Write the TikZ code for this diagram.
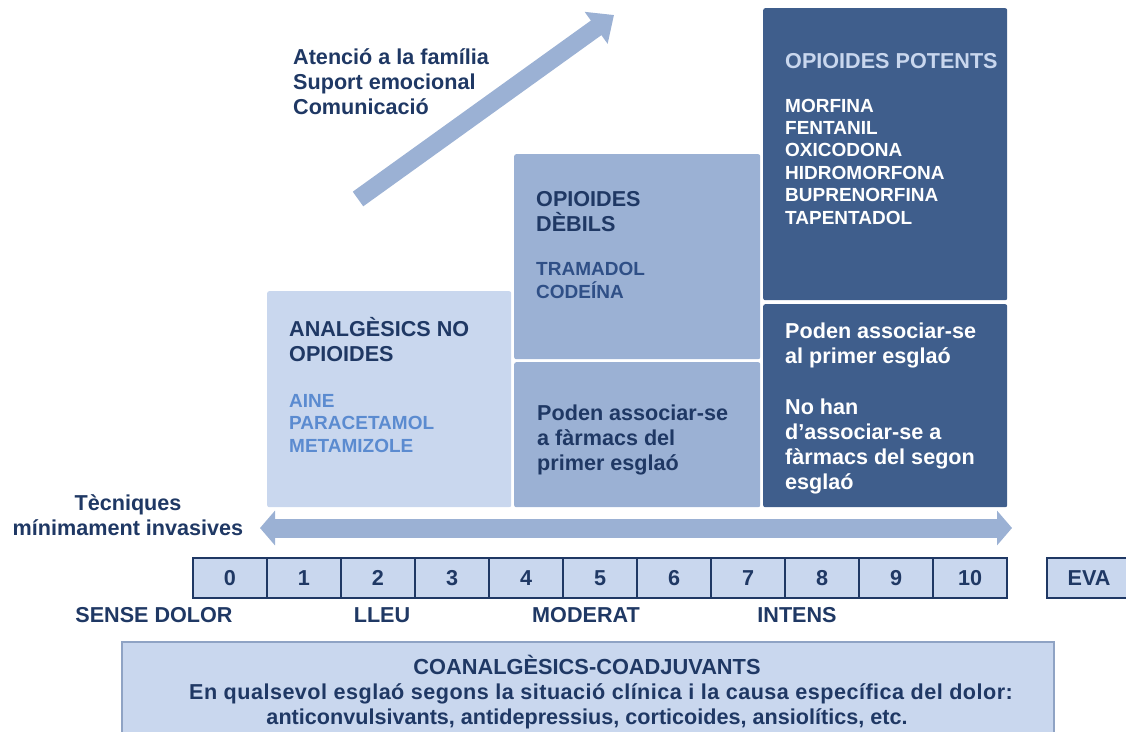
\documentclass[tikz,border=0pt]{standalone}
\usepackage{fontspec}
\setmainfont{Liberation Sans}
\usetikzlibrary{arrows.meta,positioning}

\definecolor{navy}{HTML}{1F3864}
\definecolor{bluetxt}{HTML}{2F4F86}
\definecolor{pale}{HTML}{C9D7EE}
\definecolor{mid}{HTML}{9BB1D4}
\definecolor{deep}{HTML}{3F5E8C}
\definecolor{aine}{HTML}{5B8BD0}
\definecolor{frame}{HTML}{8FA3C4}

\tikzset{
  stepbox/.style={rounded corners=2pt,anchor=north west,inner sep=0pt},
  big/.style={font=\fontsize{21.6}{25}\selectfont\bfseries,align=left,anchor=base west,inner sep=0pt},
  small/.style={font=\fontsize{19}{22.4}\selectfont\bfseries,align=left,anchor=base west,inner sep=0pt},
  cell/.style={draw=navy,line width=1.1pt,fill=pale,minimum width=74pt,minimum height=40pt,
    inner sep=0pt,font=\fontsize{21.6}{25}\selectfont\bfseries,text=navy},
  fatarrow/.style={draw=mid,line width=18pt,-{Triangle[width=38pt,length=22pt]}},
}

\begin{document}
\begin{tikzpicture}[x=1pt,y=-1pt]
\useasboundingbox (0,0) rectangle (1126,731);
\clip (0,0) rectangle (1126,731);

% upward arrow and its text (base = last line)
\coordinate (tail) at (358,199);
\coordinate (tip) at (614,15);
\draw[fatarrow] (tail) -- (tip);
\node[big,text=navy] (care) at (293,114) {Atenció a la família\\Suport emocional\\Comunicació};

% first step
\node[stepbox,fill=pale,minimum width=244pt,minimum height=216pt] (step1) at (267,291) {};
\node[big,text=navy] (t1) at (289,361) {\fontsize{21.6}{26}\selectfont ANALGÈSICS NO\\OPIOIDES};
\node[small,text=aine] (l1) at (289,452) {AINE\\PARACETAMOL\\METAMIZOLE};

% second step
\node[stepbox,fill=mid,minimum width=246pt,minimum height=205pt] (step2) at (514,154) {};
\node[stepbox,fill=mid,minimum width=246pt,minimum height=145pt] (step2b) at (514,362) {};
\node[big,text=navy] (t2) at (536,231) {OPIOIDES\\DÈBILS};
\node[small,text=bluetxt] (l2) at (536,298) {\fontsize{19}{23}\selectfont TRAMADOL\\CODEÍNA};
\node[big,text=navy] (n2) at (537,470) {\fontsize{21.6}{25.5}\selectfont Poden associar-se\\a fàrmacs del\\primer esglaó};

% third step
\node[stepbox,fill=deep,minimum width=244pt,minimum height=292pt] (step3) at (763,8) {};
\node[stepbox,fill=deep,minimum width=244pt,minimum height=203pt] (step3b) at (763,304) {};
\node[big,text=pale] (t3) at (785,68) {OPIOIDES POTENTS};
\node[small,text=white] (l3) at (785,224) {MORFINA\\FENTANIL\\OXICODONA\\HIDROMORFONA\\BUPRENORFINA\\TAPENTADOL};
\node[big,text=white] (n3) at (785,489) {\fontsize{21.6}{25}\selectfont Poden associar-se\\al primer esglaó\\[26pt]No han\\d’associar-se a\\fàrmacs del segon\\esglaó};

% minimally invasive techniques
\coordinate (left) at (260,528);
\coordinate (right) at (1012,528);
\draw[draw=mid,line width=19pt,{Triangle[width=34pt,length=15pt]}-{Triangle[width=34pt,length=15pt]}] (left) -- (right);
\node[big,text=navy,align=center,anchor=base] (tec) at (128,535) {\fontsize{21.6}{26}\selectfont Tècniques\\mínimament invasives};

% pain scale
\foreach \n in {0,...,10}
  \node[cell] (s\n) at ({230+74*\n},578) {\n};
\node[cell,minimum width=84pt] (eva) at (1089,578) {EVA};
\node[big,text=navy,anchor=base] (none) at (154,622) {SENSE DOLOR};
\node[big,text=navy,anchor=base] (mild) at (382,622) {LLEU};
\node[big,text=navy,anchor=base] (moderate) at (586,622) {MODERAT};
\node[big,text=navy,anchor=base] (severe) at (797,622) {INTENS};

% adjuvants
\node[draw=frame,line width=1.5pt,fill=pale,anchor=north west,minimum width=932pt,minimum height=110pt,inner sep=0pt] (coad) at (121,641) {};
\node[big,text=navy,align=center,anchor=base] (coadtxt) at (587,724) {\fontsize{22.4}{26.5}\selectfont {\fontsize{21.8}{26.5}\selectfont COANALGÈSICS-COADJUVANTS}\\\hspace*{28pt}\addfontfeature{LetterSpace=2.2}En qualsevol esglaó segons la situació clínica i la causa específica del dolor:\\anticonvulsivants, antidepressius, corticoides, ansiolítics, etc.};
\end{tikzpicture}
\end{document}
